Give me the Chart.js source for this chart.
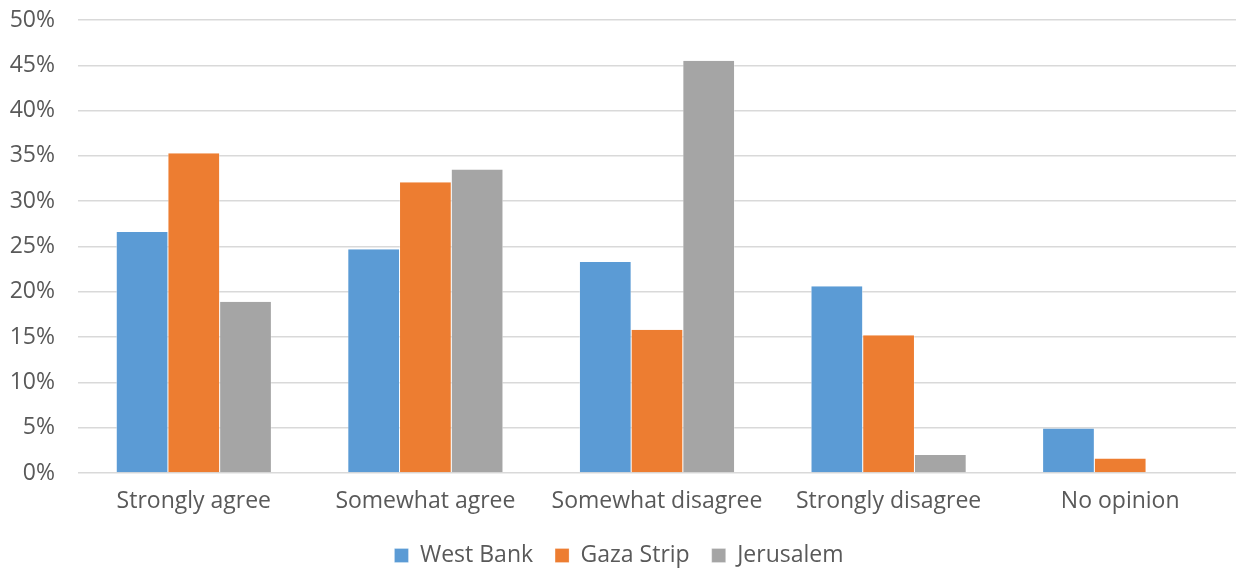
<!DOCTYPE html>
<html><head><meta charset="utf-8">
<script src="https://cdn.jsdelivr.net/npm/chart.js@4"></script>
<style>html,body{margin:0;padding:0;background:#fff}#wrap{width:1237px;height:571px}</style>
</head><body><div id="wrap"><canvas id="c" width="1237" height="571"></canvas></div>
<script>
const categories = ["Strongly agree","Somewhat agree","Somewhat disagree","Strongly disagree","No opinion"];
const westBank = [26.6, 24.7, 23.3, 20.6, 4.9];
const gazaStrip = [35.3, 32.1, 15.8, 15.2, 1.6];
const jerusalem = [18.9, 33.5, 45.5, 2.0, 0];
const seriesNames = ["West Bank","Gaza Strip","Jerusalem"];
const colors = ["#5B9BD5","#ED7D31","#A5A5A5"];
const FONT = "Open Sans";
const txt = "#595959";
new Chart(document.getElementById('c'), {
  type: 'bar',
  data: {
    labels: categories,
    datasets: [westBank, gazaStrip, jerusalem].map((d,i)=>({
      label: seriesNames[i], data: d, backgroundColor: colors[i],
      borderColor: "#ffffff", borderWidth: {top: 0, bottom: 0, left: 0.5, right: 0.5},
      categoryPercentage: 0.67, barPercentage: 1.0
    }))
  },
  options: {
    responsive: false, animation: false,
    layout: {padding: {top: 20, right: 1, left: 2, bottom: -6}},
    plugins: {
      tooltip: {enabled: false},
      legend: {position: 'bottom', labels: {color: txt, font: {family: FONT, size: 23}, boxWidth: 14, boxHeight: 14, padding: 22}}
    },
    scales: {
      x: {grid: {display: false}, border: {display: false},
          ticks: {color: txt, font: {family: FONT, size: 23}, padding: 7},
          afterFit: s => { s.height = 49; }},
      y: {min: 0, max: 50, grid: {color: "#D9D9D9", lineWidth: 1.5, drawTicks: false}, border: {display: false},
          ticks: {stepSize: 5, color: txt, font: {family: FONT, size: 23}, padding: 23, callback: v => v + "%"},
          afterFit: s => { s.width = 76; s.paddingTop = 12; s.paddingBottom = 12; }}
    }
  }
});
</script></body></html>
